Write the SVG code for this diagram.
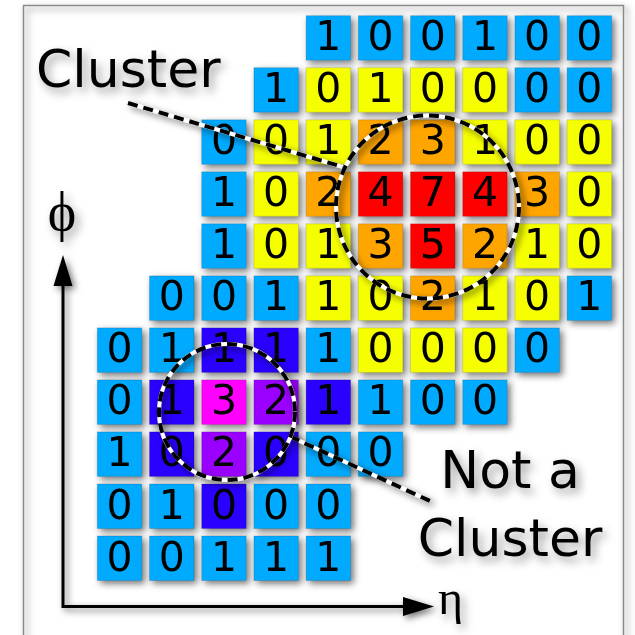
<svg xmlns="http://www.w3.org/2000/svg" width="635" height="635" viewBox="0 0 635 635">
<defs>
<filter id="sh" x="-10%" y="-10%" width="130%" height="130%">
<feGaussianBlur in="SourceAlpha" stdDeviation="3.5"/>
<feOffset dx="3" dy="3" result="b"/>
<feFlood flood-color="#000" flood-opacity="0.55"/>
<feComposite in2="b" operator="in"/>
<feMerge><feMergeNode/><feMergeNode in="SourceGraphic"/></feMerge>
</filter>
<filter id="tsh" x="-20%" y="-40%" width="140%" height="190%">
<feGaussianBlur in="SourceAlpha" stdDeviation="5"/>
<feOffset dx="4" dy="5" result="b"/>
<feFlood flood-color="#000" flood-opacity="0.4"/>
<feComposite in2="b" operator="in"/>
<feMerge><feMergeNode/><feMergeNode in="SourceGraphic"/></feMerge>
</filter>
<style>
.cell rect{stroke:#000;stroke-opacity:0.15;stroke-width:1}
.cell text{font-family:"DejaVu Sans",sans-serif;font-size:41px;text-anchor:middle;fill:#000}
.b rect{fill:#00aaff}
.y rect{fill:#f6ff00}
.o rect{fill:#ffa500}
.r rect{fill:#ff0000}
.i rect{fill:#2a00ff}
.m rect{fill:#ff00ff}
.p rect{fill:#9a00ff}
.lbl{font-family:"DejaVu Sans",sans-serif;font-size:52px;fill:#000}
.sym{font-family:"Liberation Serif","DejaVu Serif",serif;font-size:48px;fill:#000}
.lw{stroke:#fff;stroke-width:4;fill:none}
.lk{stroke:#000;stroke-width:4;fill:none;stroke-dasharray:10 6}
</style>
</defs>
<rect width="635" height="635" fill="#fff"/>
<g id="frame" filter="url(#sh)">
<rect x="23.5" y="5.5" width="600" height="650" fill="none" stroke="#8a8a8a" stroke-width="1.5"/>
</g>
<g id="axes" filter="url(#sh)">
<path d="M63,283 V606.5 H405" fill="none" stroke="#000" stroke-width="3"/>
<polygon points="63,255 53.5,286 72.5,286" fill="#000"/>
<polygon points="434,606.5 403,597 403,616" fill="#000"/>
</g>
<g id="grid" filter="url(#sh)">
<g id="c0-4" class="cell b" transform="translate(306.1,15.7)"><rect width="44.5" height="44.5"/><text x="22.25" y="34.5">1</text></g>
<g id="c0-5" class="cell b" transform="translate(358.3,15.7)"><rect width="44.5" height="44.5"/><text x="22.25" y="34.5">0</text></g>
<g id="c0-6" class="cell b" transform="translate(410.5,15.7)"><rect width="44.5" height="44.5"/><text x="22.25" y="34.5">0</text></g>
<g id="c0-7" class="cell b" transform="translate(462.7,15.7)"><rect width="44.5" height="44.5"/><text x="22.25" y="34.5">1</text></g>
<g id="c0-8" class="cell b" transform="translate(514.9,15.7)"><rect width="44.5" height="44.5"/><text x="22.25" y="34.5">0</text></g>
<g id="c0-9" class="cell b" transform="translate(567.1,15.7)"><rect width="44.5" height="44.5"/><text x="22.25" y="34.5">0</text></g>

<g id="c1-3" class="cell b" transform="translate(253.9,67.7)"><rect width="44.5" height="44.5"/><text x="22.25" y="34.5">1</text></g>
<g id="c1-4" class="cell y" transform="translate(306.1,67.7)"><rect width="44.5" height="44.5"/><text x="22.25" y="34.5">0</text></g>
<g id="c1-5" class="cell y" transform="translate(358.3,67.7)"><rect width="44.5" height="44.5"/><text x="22.25" y="34.5">1</text></g>
<g id="c1-6" class="cell y" transform="translate(410.5,67.7)"><rect width="44.5" height="44.5"/><text x="22.25" y="34.5">0</text></g>
<g id="c1-7" class="cell y" transform="translate(462.7,67.7)"><rect width="44.5" height="44.5"/><text x="22.25" y="34.5">0</text></g>
<g id="c1-8" class="cell b" transform="translate(514.9,67.7)"><rect width="44.5" height="44.5"/><text x="22.25" y="34.5">0</text></g>
<g id="c1-9" class="cell b" transform="translate(567.1,67.7)"><rect width="44.5" height="44.5"/><text x="22.25" y="34.5">0</text></g>

<g id="c2-2" class="cell b" transform="translate(201.7,119.8)"><rect width="44.5" height="44.5"/><text x="22.25" y="34.5">0</text></g>
<g id="c2-3" class="cell y" transform="translate(253.9,119.8)"><rect width="44.5" height="44.5"/><text x="22.25" y="34.5">0</text></g>
<g id="c2-4" class="cell y" transform="translate(306.1,119.8)"><rect width="44.5" height="44.5"/><text x="22.25" y="34.5">1</text></g>
<g id="c2-5" class="cell o" transform="translate(358.3,119.8)"><rect width="44.5" height="44.5"/><text x="22.25" y="34.5">2</text></g>
<g id="c2-6" class="cell o" transform="translate(410.5,119.8)"><rect width="44.5" height="44.5"/><text x="22.25" y="34.5">3</text></g>
<g id="c2-7" class="cell y" transform="translate(462.7,119.8)"><rect width="44.5" height="44.5"/><text x="22.25" y="34.5">1</text></g>
<g id="c2-8" class="cell y" transform="translate(514.9,119.8)"><rect width="44.5" height="44.5"/><text x="22.25" y="34.5">0</text></g>
<g id="c2-9" class="cell y" transform="translate(567.1,119.8)"><rect width="44.5" height="44.5"/><text x="22.25" y="34.5">0</text></g>

<g id="c3-2" class="cell b" transform="translate(201.7,171.8)"><rect width="44.5" height="44.5"/><text x="22.25" y="34.5">1</text></g>
<g id="c3-3" class="cell y" transform="translate(253.9,171.8)"><rect width="44.5" height="44.5"/><text x="22.25" y="34.5">0</text></g>
<g id="c3-4" class="cell o" transform="translate(306.1,171.8)"><rect width="44.5" height="44.5"/><text x="22.25" y="34.5">2</text></g>
<g id="c3-5" class="cell r" transform="translate(358.3,171.8)"><rect width="44.5" height="44.5"/><text x="22.25" y="34.5">4</text></g>
<g id="c3-6" class="cell r" transform="translate(410.5,171.8)"><rect width="44.5" height="44.5"/><text x="22.25" y="34.5">7</text></g>
<g id="c3-7" class="cell r" transform="translate(462.7,171.8)"><rect width="44.5" height="44.5"/><text x="22.25" y="34.5">4</text></g>
<g id="c3-8" class="cell o" transform="translate(514.9,171.8)"><rect width="44.5" height="44.5"/><text x="22.25" y="34.5">3</text></g>
<g id="c3-9" class="cell y" transform="translate(567.1,171.8)"><rect width="44.5" height="44.5"/><text x="22.25" y="34.5">0</text></g>

<g id="c4-2" class="cell b" transform="translate(201.7,223.8)"><rect width="44.5" height="44.5"/><text x="22.25" y="34.5">1</text></g>
<g id="c4-3" class="cell y" transform="translate(253.9,223.8)"><rect width="44.5" height="44.5"/><text x="22.25" y="34.5">0</text></g>
<g id="c4-4" class="cell y" transform="translate(306.1,223.8)"><rect width="44.5" height="44.5"/><text x="22.25" y="34.5">1</text></g>
<g id="c4-5" class="cell o" transform="translate(358.3,223.8)"><rect width="44.5" height="44.5"/><text x="22.25" y="34.5">3</text></g>
<g id="c4-6" class="cell r" transform="translate(410.5,223.8)"><rect width="44.5" height="44.5"/><text x="22.25" y="34.5">5</text></g>
<g id="c4-7" class="cell o" transform="translate(462.7,223.8)"><rect width="44.5" height="44.5"/><text x="22.25" y="34.5">2</text></g>
<g id="c4-8" class="cell y" transform="translate(514.9,223.8)"><rect width="44.5" height="44.5"/><text x="22.25" y="34.5">1</text></g>
<g id="c4-9" class="cell y" transform="translate(567.1,223.8)"><rect width="44.5" height="44.5"/><text x="22.25" y="34.5">0</text></g>

<g id="c5-1" class="cell b" transform="translate(149.5,275.9)"><rect width="44.5" height="44.5"/><text x="22.25" y="34.5">0</text></g>
<g id="c5-2" class="cell b" transform="translate(201.7,275.9)"><rect width="44.5" height="44.5"/><text x="22.25" y="34.5">0</text></g>
<g id="c5-3" class="cell b" transform="translate(253.9,275.9)"><rect width="44.5" height="44.5"/><text x="22.25" y="34.5">1</text></g>
<g id="c5-4" class="cell y" transform="translate(306.1,275.9)"><rect width="44.5" height="44.5"/><text x="22.25" y="34.5">1</text></g>
<g id="c5-5" class="cell y" transform="translate(358.3,275.9)"><rect width="44.5" height="44.5"/><text x="22.25" y="34.5">0</text></g>
<g id="c5-6" class="cell o" transform="translate(410.5,275.9)"><rect width="44.5" height="44.5"/><text x="22.25" y="34.5">2</text></g>
<g id="c5-7" class="cell y" transform="translate(462.7,275.9)"><rect width="44.5" height="44.5"/><text x="22.25" y="34.5">1</text></g>
<g id="c5-8" class="cell y" transform="translate(514.9,275.9)"><rect width="44.5" height="44.5"/><text x="22.25" y="34.5">0</text></g>
<g id="c5-9" class="cell b" transform="translate(567.1,275.9)"><rect width="44.5" height="44.5"/><text x="22.25" y="34.5">1</text></g>

<g id="c6-0" class="cell b" transform="translate(97.3,327.9)"><rect width="44.5" height="44.5"/><text x="22.25" y="34.5">0</text></g>
<g id="c6-1" class="cell b" transform="translate(149.5,327.9)"><rect width="44.5" height="44.5"/><text x="22.25" y="34.5">1</text></g>
<g id="c6-2" class="cell i" transform="translate(201.7,327.9)"><rect width="44.5" height="44.5"/><text x="22.25" y="34.5">1</text></g>
<g id="c6-3" class="cell i" transform="translate(253.9,327.9)"><rect width="44.5" height="44.5"/><text x="22.25" y="34.5">1</text></g>
<g id="c6-4" class="cell b" transform="translate(306.1,327.9)"><rect width="44.5" height="44.5"/><text x="22.25" y="34.5">1</text></g>
<g id="c6-5" class="cell y" transform="translate(358.3,327.9)"><rect width="44.5" height="44.5"/><text x="22.25" y="34.5">0</text></g>
<g id="c6-6" class="cell y" transform="translate(410.5,327.9)"><rect width="44.5" height="44.5"/><text x="22.25" y="34.5">0</text></g>
<g id="c6-7" class="cell y" transform="translate(462.7,327.9)"><rect width="44.5" height="44.5"/><text x="22.25" y="34.5">0</text></g>
<g id="c6-8" class="cell b" transform="translate(514.9,327.9)"><rect width="44.5" height="44.5"/><text x="22.25" y="34.5">0</text></g>

<g id="c7-0" class="cell b" transform="translate(97.3,379.9)"><rect width="44.5" height="44.5"/><text x="22.25" y="34.5">0</text></g>
<g id="c7-1" class="cell i" transform="translate(149.5,379.9)"><rect width="44.5" height="44.5"/><text x="22.25" y="34.5">1</text></g>
<g id="c7-2" class="cell m" transform="translate(201.7,379.9)"><rect width="44.5" height="44.5"/><text x="22.25" y="34.5">3</text></g>
<g id="c7-3" class="cell p" transform="translate(253.9,379.9)"><rect width="44.5" height="44.5"/><text x="22.25" y="34.5">2</text></g>
<g id="c7-4" class="cell i" transform="translate(306.1,379.9)"><rect width="44.5" height="44.5"/><text x="22.25" y="34.5">1</text></g>
<g id="c7-5" class="cell b" transform="translate(358.3,379.9)"><rect width="44.5" height="44.5"/><text x="22.25" y="34.5">1</text></g>
<g id="c7-6" class="cell b" transform="translate(410.5,379.9)"><rect width="44.5" height="44.5"/><text x="22.25" y="34.5">0</text></g>
<g id="c7-7" class="cell b" transform="translate(462.7,379.9)"><rect width="44.5" height="44.5"/><text x="22.25" y="34.5">0</text></g>

<g id="c8-0" class="cell b" transform="translate(97.3,431.9)"><rect width="44.5" height="44.5"/><text x="22.25" y="34.5">1</text></g>
<g id="c8-1" class="cell i" transform="translate(149.5,431.9)"><rect width="44.5" height="44.5"/><text x="22.25" y="34.5">0</text></g>
<g id="c8-2" class="cell p" transform="translate(201.7,431.9)"><rect width="44.5" height="44.5"/><text x="22.25" y="34.5">2</text></g>
<g id="c8-3" class="cell i" transform="translate(253.9,431.9)"><rect width="44.5" height="44.5"/><text x="22.25" y="34.5">0</text></g>
<g id="c8-4" class="cell b" transform="translate(306.1,431.9)"><rect width="44.5" height="44.5"/><text x="22.25" y="34.5">0</text></g>
<g id="c8-5" class="cell b" transform="translate(358.3,431.9)"><rect width="44.5" height="44.5"/><text x="22.25" y="34.5">0</text></g>

<g id="c9-0" class="cell b" transform="translate(97.3,484)"><rect width="44.5" height="44.5"/><text x="22.25" y="34.5">0</text></g>
<g id="c9-1" class="cell b" transform="translate(149.5,484)"><rect width="44.5" height="44.5"/><text x="22.25" y="34.5">1</text></g>
<g id="c9-2" class="cell i" transform="translate(201.7,484)"><rect width="44.5" height="44.5"/><text x="22.25" y="34.5">0</text></g>
<g id="c9-3" class="cell b" transform="translate(253.9,484)"><rect width="44.5" height="44.5"/><text x="22.25" y="34.5">0</text></g>
<g id="c9-4" class="cell b" transform="translate(306.1,484)"><rect width="44.5" height="44.5"/><text x="22.25" y="34.5">0</text></g>

<g id="c10-0" class="cell b" transform="translate(97.3,536)"><rect width="44.5" height="44.5"/><text x="22.25" y="34.5">0</text></g>
<g id="c10-1" class="cell b" transform="translate(149.5,536)"><rect width="44.5" height="44.5"/><text x="22.25" y="34.5">0</text></g>
<g id="c10-2" class="cell b" transform="translate(201.7,536)"><rect width="44.5" height="44.5"/><text x="22.25" y="34.5">1</text></g>
<g id="c10-3" class="cell b" transform="translate(253.9,536)"><rect width="44.5" height="44.5"/><text x="22.25" y="34.5">1</text></g>
<g id="c10-4" class="cell b" transform="translate(306.1,536)"><rect width="44.5" height="44.5"/><text x="22.25" y="34.5">1</text></g>
</g>
<g id="connectors" filter="url(#sh)">
<line class="lw" x1="128" y1="103" x2="343" y2="167"/>
<line class="lk" x1="128" y1="103" x2="343" y2="167"/>
<line class="lw" x1="290" y1="436.5" x2="430" y2="501"/>
<line class="lk" x1="290" y1="436.5" x2="430" y2="501"/>
</g>
<g id="cluster-circle" filter="url(#sh)">
<circle class="lw" cx="427.5" cy="207" r="91.5"/>
<circle class="lk" cx="427.5" cy="207" r="91.5"/>
</g>
<g id="noncluster-circle" filter="url(#sh)">
<circle class="lw" cx="227" cy="412" r="68"/>
<circle class="lk" cx="227" cy="412" r="68"/>
</g>
<g id="label-cluster" filter="url(#tsh)">
<text class="lbl" x="36" y="87">Cluster</text>
</g>
<g id="label-notcluster" filter="url(#tsh)">
<text class="lbl" x="510" y="488" text-anchor="middle">Not a</text>
<text class="lbl" x="510" y="556" text-anchor="middle">Cluster</text>
</g>
<g id="axis-labels" filter="url(#tsh)">
<text class="sym" x="62" y="230" text-anchor="middle" style="font-size:54px">ϕ</text>
<text class="sym" x="438" y="614">η</text>
</g>
</svg>
